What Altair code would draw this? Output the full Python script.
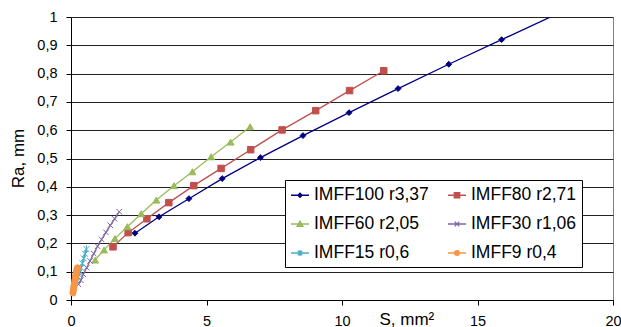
import altair as alt
import pandas as pd

series_names = ["IMFF100 r3,37", "IMFF80 r2,71", "IMFF60 r2,05",
                "IMFF30 r1,06", "IMFF15 r0,6", "IMFF9 r0,4"]
colors = ["#000080", "#C0504D", "#9BBB59", "#8064A2", "#4BACC6", "#F79646"]

imff100_x = [2.36, 3.25, 4.35, 5.58, 6.99, 8.56, 10.26, 12.07, 13.94, 15.89, 17.85]
imff100_y = [0.236, 0.294, 0.358, 0.429, 0.503, 0.581, 0.662, 0.747, 0.833, 0.920, 1.007]

imff80_x = [1.55, 2.11, 2.80, 3.61, 4.53, 5.54, 6.63, 7.79, 9.03, 10.28, 11.54]
imff80_y = [0.188, 0.238, 0.287, 0.344, 0.404, 0.465, 0.531, 0.601, 0.669, 0.740, 0.810]

imff60_x = [0.89, 1.22, 1.62, 2.08, 2.59, 3.15, 3.80, 4.48, 5.17, 5.89, 6.61]
imff60_y = [0.141, 0.177, 0.217, 0.259, 0.305, 0.353, 0.404, 0.453, 0.506, 0.558, 0.612]

imff30_x = [0.28, 0.36, 0.45, 0.58, 0.70, 0.84, 0.98, 1.13, 1.29, 1.45, 1.61, 1.78]
imff30_y = [0.055, 0.070, 0.091, 0.114, 0.138, 0.164, 0.190, 0.214, 0.239, 0.264, 0.287, 0.312]

imff15_x = [0.22, 0.27, 0.32, 0.37, 0.42, 0.47, 0.52, 0.57]
imff15_y = [0.066, 0.082, 0.098, 0.114, 0.130, 0.147, 0.163, 0.180]

imff9_x = [0.07, 0.08, 0.09, 0.10, 0.11, 0.12, 0.13, 0.14, 0.15, 0.16, 0.17, 0.18, 0.20, 0.21, 0.22, 0.24]
imff9_y = [0.025, 0.031, 0.037, 0.043, 0.049, 0.055, 0.061, 0.067, 0.073, 0.079, 0.085, 0.091, 0.097, 0.103, 0.108, 0.114]

x_ticks = [0, 5, 10, 15, 20]
y_ticks = [0, 0.1, 0.2, 0.3, 0.4, 0.5, 0.6, 0.7, 0.8, 0.9, 1.0]

# marker shapes in the plot
plot_shapes = [
    "diamond", "square", "triangle-up",
    "M-1,-1L1,1M-1,1L1,-1",
    "M-1,-1L1,1M-1,1L1,-1M0,-1.3L0,1.3",
    "circle",
]
marker_sizes = [34, 42, 48, 30, 34, 36]

# legend symbols: a short line with the marker in the middle
legend_shapes = [
    "M-1,0L1,0M0,-0.24L0.24,0L0,0.24L-0.24,0Z",
    "M-1,0L1,0M-0.3,-0.3L0.3,-0.3L0.3,0.3L-0.3,0.3Z",
    "M-1,0L1,0M0,-0.32L0.33,0.27L-0.33,0.27Z",
    "M-1,0L1,0M-0.26,-0.26L0.26,0.26M-0.26,0.26L0.26,-0.26",
    "M-1,0L1,0M-0.26,-0.26L0.26,0.26M-0.26,0.26L0.26,-0.26M0,-0.32L0,0.32",
    "M-1,0L1,0M0.27,0A0.27,0.27 0 1,1 -0.27,0A0.27,0.27 0 1,1 0.27,0Z",
]

xs = [imff100_x, imff80_x, imff60_x, imff30_x, imff15_x, imff9_x]
ys = [imff100_y, imff80_y, imff60_y, imff30_y, imff15_y, imff9_y]

rows = []
for name, sx, sy, ms in zip(series_names, xs, ys, marker_sizes):
    for i, (a, b) in enumerate(zip(sx, sy)):
        rows.append({"series": name, "i": i, "x": a, "y": b, "msize": ms})
df = pd.DataFrame(rows)

FONT = "Liberation Sans"

x_enc = alt.X("x:Q", scale=alt.Scale(domain=[0, 20], nice=False, zero=False),
              axis=alt.Axis(values=x_ticks, grid=False, title="S, mm²",
                            titleX=308, titleY=24, titleAlign="left",
                            titleBaseline="alphabetic", titleAngle=0,
                            labelPadding=9, tickSize=5, labelFlush=False))
y_enc = alt.Y("y:Q", scale=alt.Scale(domain=[0, 1], nice=False, zero=False),
              axis=alt.Axis(values=y_ticks, grid=True, title="Ra, mm",
                            labelExpr="replace(format(datum.value, '.1~f'), '.', ',')",
                            titleX=-48, titleY=141, titleAngle=270,
                            titleAlign="center", titleBaseline="alphabetic",
                            labelPadding=9, tickSize=5, labelFlush=False))

base = alt.Chart(df)

lines = base.mark_line(strokeWidth=1.3, clip=True).encode(
    x=x_enc, y=y_enc,
    color=alt.Color("series:N", scale=alt.Scale(domain=series_names, range=colors), legend=None),
    order=alt.Order("i:Q"),
    detail="series:N",
)

points = base.transform_filter("datum.y <= 1").mark_point(
    filled=True, strokeWidth=1, opacity=1).encode(
    x=x_enc, y=y_enc,
    fill=alt.Fill("series:N", scale=alt.Scale(domain=series_names, range=colors), legend=None),
    stroke=alt.Stroke("series:N", scale=alt.Scale(domain=series_names, range=colors), legend=None),
    shape=alt.Shape("series:N", scale=alt.Scale(domain=series_names, range=plot_shapes), legend=None),
    size=alt.Size("msize:Q", scale=None),
)

leg = alt.Legend(
    title=None, orient="none", legendX=214, legendY=163, columns=2,
    direction="horizontal",
    strokeColor="black", fillColor="white", padding=5, rowPadding=10,
    columnPadding=16, labelOffset=4, symbolSize=324, symbolStrokeWidth=1.3,
    labelFontSize=17.5, labelFont=FONT, labelColor="black", labelLimit=400,
)

legend_layer = base.transform_filter("false").mark_point(
    filled=True, strokeWidth=1.3, opacity=1).encode(
    x=x_enc, y=y_enc,
    fill=alt.Fill("series:N", scale=alt.Scale(domain=series_names, range=colors), legend=leg),
    stroke=alt.Stroke("series:N", scale=alt.Scale(domain=series_names, range=colors), legend=leg),
    shape=alt.Shape("series:N", scale=alt.Scale(domain=series_names, range=legend_shapes), legend=leg),
)

chart = alt.layer(lines, points, legend_layer).resolve_scale(
    shape="independent", fill="independent", stroke="independent"
).properties(
    width=542, height=283,
    autosize=alt.AutoSizeParams(type="none"),
    padding={"left": 71, "top": 17, "right": 8, "bottom": 27},
    background="white",
).configure_view(
    stroke="#808080", strokeWidth=1,
).configure_axis(
    labelFont=FONT, labelFontSize=14.5, labelColor="black",
    titleFont=FONT, titleFontSize=17, titleFontWeight="normal", titleColor="black",
    domainColor="black", tickColor="black", gridColor="#222222", gridWidth=1,
    domainWidth=1, tickWidth=1, labelOverlap=False,
)

chart.save("out.html", embed_options={"renderer": "svg", "actions": False})
